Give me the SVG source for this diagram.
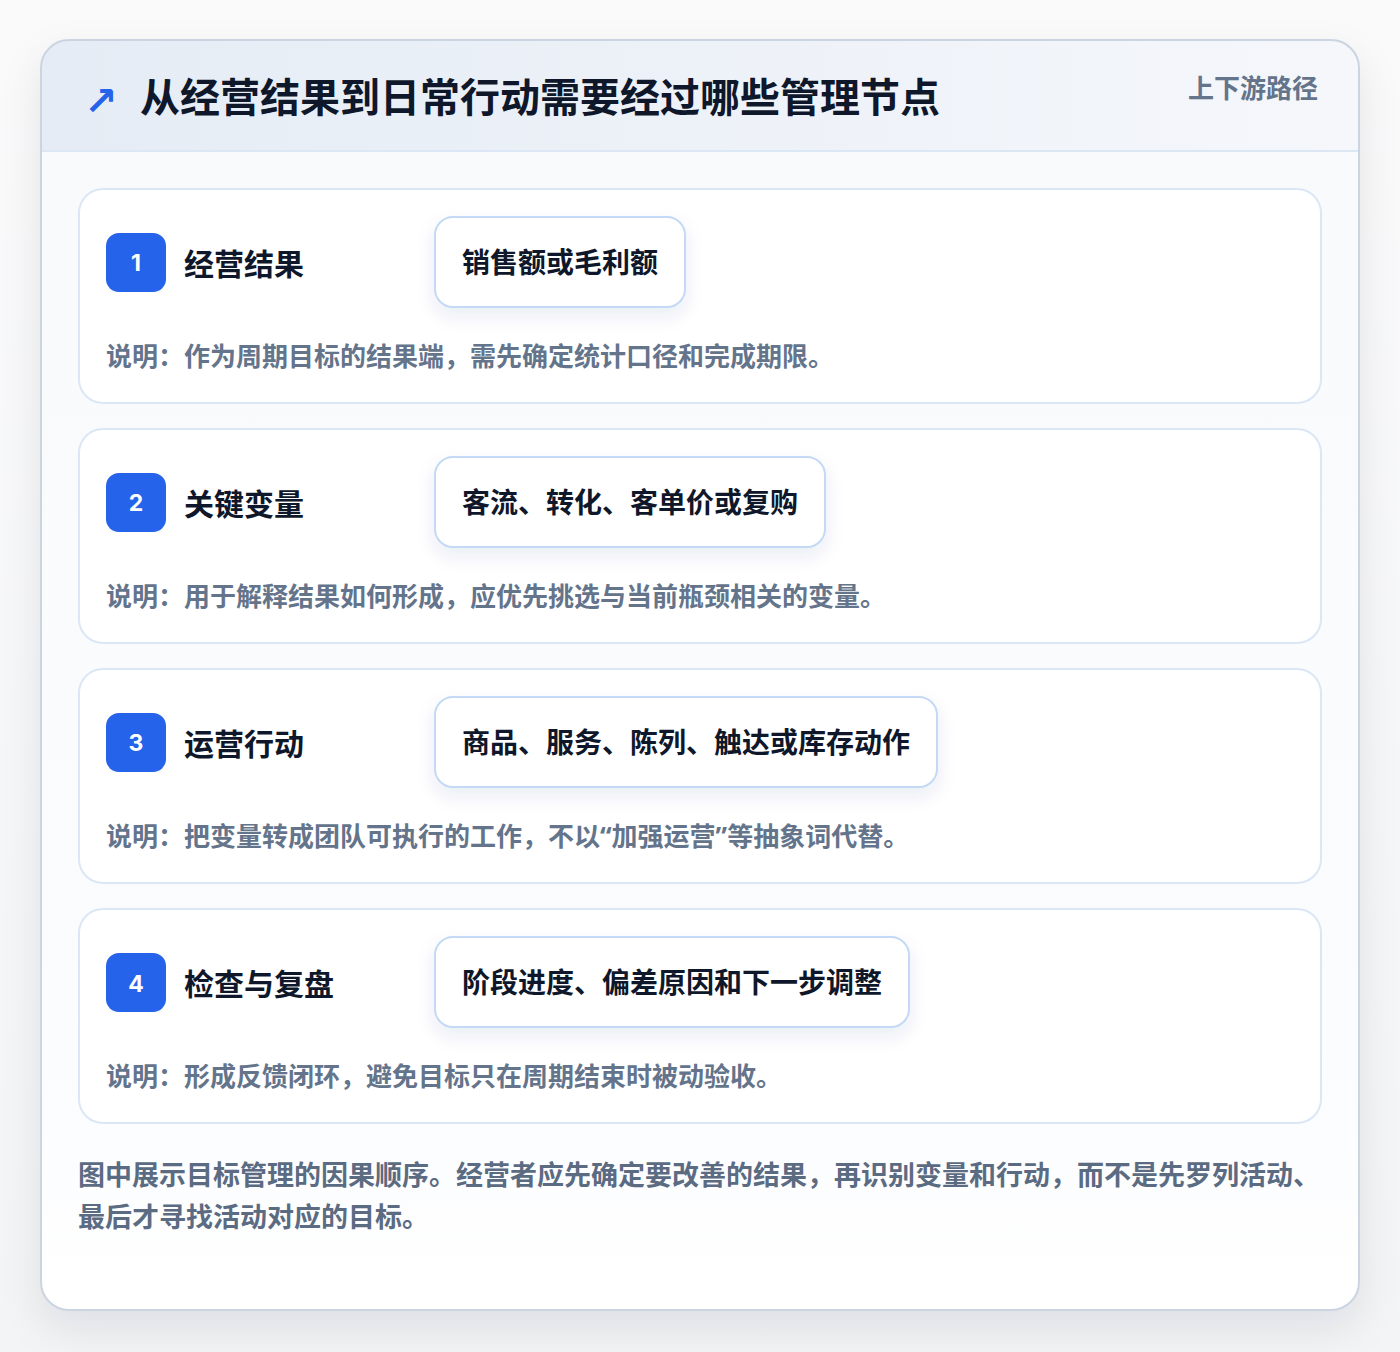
<svg xmlns="http://www.w3.org/2000/svg" width="1400" height="1352" viewBox="0 0 1400 1352">
<defs>
<linearGradient id="hdr" x1="0" y1="0" x2="1" y2="0">
<stop offset="0" stop-color="#e5ecf5"/>
<stop offset="1" stop-color="#f5f7fb"/>
</linearGradient>
<linearGradient id="body" x1="0" y1="0" x2="0" y2="1">
<stop offset="0" stop-color="#f8fafc"/>
<stop offset="0.8" stop-color="#fbfcfe"/>
<stop offset="1" stop-color="#ffffff"/>
</linearGradient>
<linearGradient id="page" x1="0" y1="0" x2="0" y2="1">
<stop offset="0" stop-color="#fafafb"/>
<stop offset="1" stop-color="#f3f4f6"/>
</linearGradient>
<filter id="shadow" x="-10%" y="-10%" width="120%" height="125%">
<feDropShadow dx="0" dy="18" stdDeviation="20" flood-color="#0f172a" flood-opacity="0.09"/>
</filter>
<filter id="pshadow" x="-20%" y="-30%" width="140%" height="180%">
<feDropShadow dx="0" dy="8" stdDeviation="9" flood-color="#1e3a8a" flood-opacity="0.09"/>
</filter>
<clipPath id="mainclip"><rect x="41" y="40" width="1318" height="1270" rx="28"/></clipPath>
</defs>
<style>
text{font-family:"Noto Sans","Noto Sans CJK SC",sans-serif;font-weight:700}
.title{font-size:40px;fill:#0f172a}
.tag{font-size:26px;fill:#64748b}
.card{fill:#ffffff;stroke:#dbe7f7;stroke-width:2}
.badge{fill:#2563eb}
.num{font-size:23px;fill:#ffffff;text-anchor:middle;font-family:Inter,"Noto Sans",sans-serif}
.label{font-size:30px;fill:#0f172a}
.pill{fill:#ffffff;stroke:#c3d9f5;stroke-width:2}
.ptext{font-size:28px;fill:#0f172a}
.desc{font-size:26px;fill:#64748b}
.foot{font-size:27px;fill:#5b6b82}
</style>
<rect x="0" y="0" width="1400" height="1352" fill="url(#page)"/>
<g id="frame">
<rect x="41" y="40" width="1318" height="1270" rx="28" fill="#ffffff" filter="url(#shadow)"/>
<g clip-path="url(#mainclip)">
<rect x="41" y="151" width="1318" height="1159" fill="url(#body)"/>
<rect x="41" y="40" width="1318" height="111" fill="url(#hdr)"/>
<line x1="41" y1="151" x2="1359" y2="151" stroke="#dbe7f5" stroke-width="2"/>
</g>
<rect x="41" y="40" width="1318" height="1270" rx="28" fill="none" stroke="#cbd5e1" stroke-width="2"/>
</g>
<g id="header">
<text x="84" y="115" font-size="40" fill="#2563eb" style="font-family:'DejaVu Sans',sans-serif;font-weight:700">↗</text>
<text class="title" x="140" y="112">从经营结果到日常行动需要经过哪些管理节点</text>
<text class="tag" x="1318" y="98" text-anchor="end">上下游路径</text>
</g>
<g id="node1">
<rect class="card" x="79" y="189" width="1242" height="214" rx="24"/>
<rect class="badge" x="106" y="233" width="60" height="59" rx="13"/>
<text class="num" x="136" y="271">1</text>
<text class="label" x="184" y="275">经营结果</text>
<rect class="pill" x="435" y="217" width="250" height="90" rx="18" filter="url(#pshadow)"/>
<text class="ptext" x="462" y="273">销售额或毛利额</text>
<text class="desc" x="106" y="366">说明：作为周期目标的结果端，需先确定统计口径和完成期限。</text>
</g>
<g id="node2">
<rect class="card" x="79" y="429" width="1242" height="214" rx="24"/>
<rect class="badge" x="106" y="473" width="60" height="59" rx="13"/>
<text class="num" x="136" y="511">2</text>
<text class="label" x="184" y="515">关键变量</text>
<rect class="pill" x="435" y="457" width="390" height="90" rx="18" filter="url(#pshadow)"/>
<text class="ptext" x="462" y="513">客流、转化、客单价或复购</text>
<text class="desc" x="106" y="606">说明：用于解释结果如何形成，应优先挑选与当前瓶颈相关的变量。</text>
</g>
<g id="node3">
<rect class="card" x="79" y="669" width="1242" height="214" rx="24"/>
<rect class="badge" x="106" y="713" width="60" height="59" rx="13"/>
<text class="num" x="136" y="751">3</text>
<text class="label" x="184" y="755">运营行动</text>
<rect class="pill" x="435" y="697" width="502" height="90" rx="18" filter="url(#pshadow)"/>
<text class="ptext" x="462" y="753">商品、服务、陈列、触达或库存动作</text>
<text class="desc" x="106" y="846">说明：把变量转成团队可执行的工作，不以“加强运营”等抽象词代替。</text>
</g>
<g id="node4">
<rect class="card" x="79" y="909" width="1242" height="214" rx="24"/>
<rect class="badge" x="106" y="953" width="60" height="59" rx="13"/>
<text class="num" x="136" y="992">4</text>
<text class="label" x="184" y="995">检查与复盘</text>
<rect class="pill" x="435" y="937" width="474" height="90" rx="18" filter="url(#pshadow)"/>
<text class="ptext" x="462" y="993">阶段进度、偏差原因和下一步调整</text>
<text class="desc" x="106" y="1086">说明：形成反馈闭环，避免目标只在周期结束时被动验收。</text>
</g>
<g id="connectors"></g>
<g id="footer">
<text class="foot" x="78" y="1185">图中展示目标管理的因果顺序。经营者应先确定要改善的结果，再识别变量和行动，而不是先罗列活动、</text>
<text class="foot" x="78" y="1227">最后才寻找活动对应的目标。</text>
</g>
</svg>
